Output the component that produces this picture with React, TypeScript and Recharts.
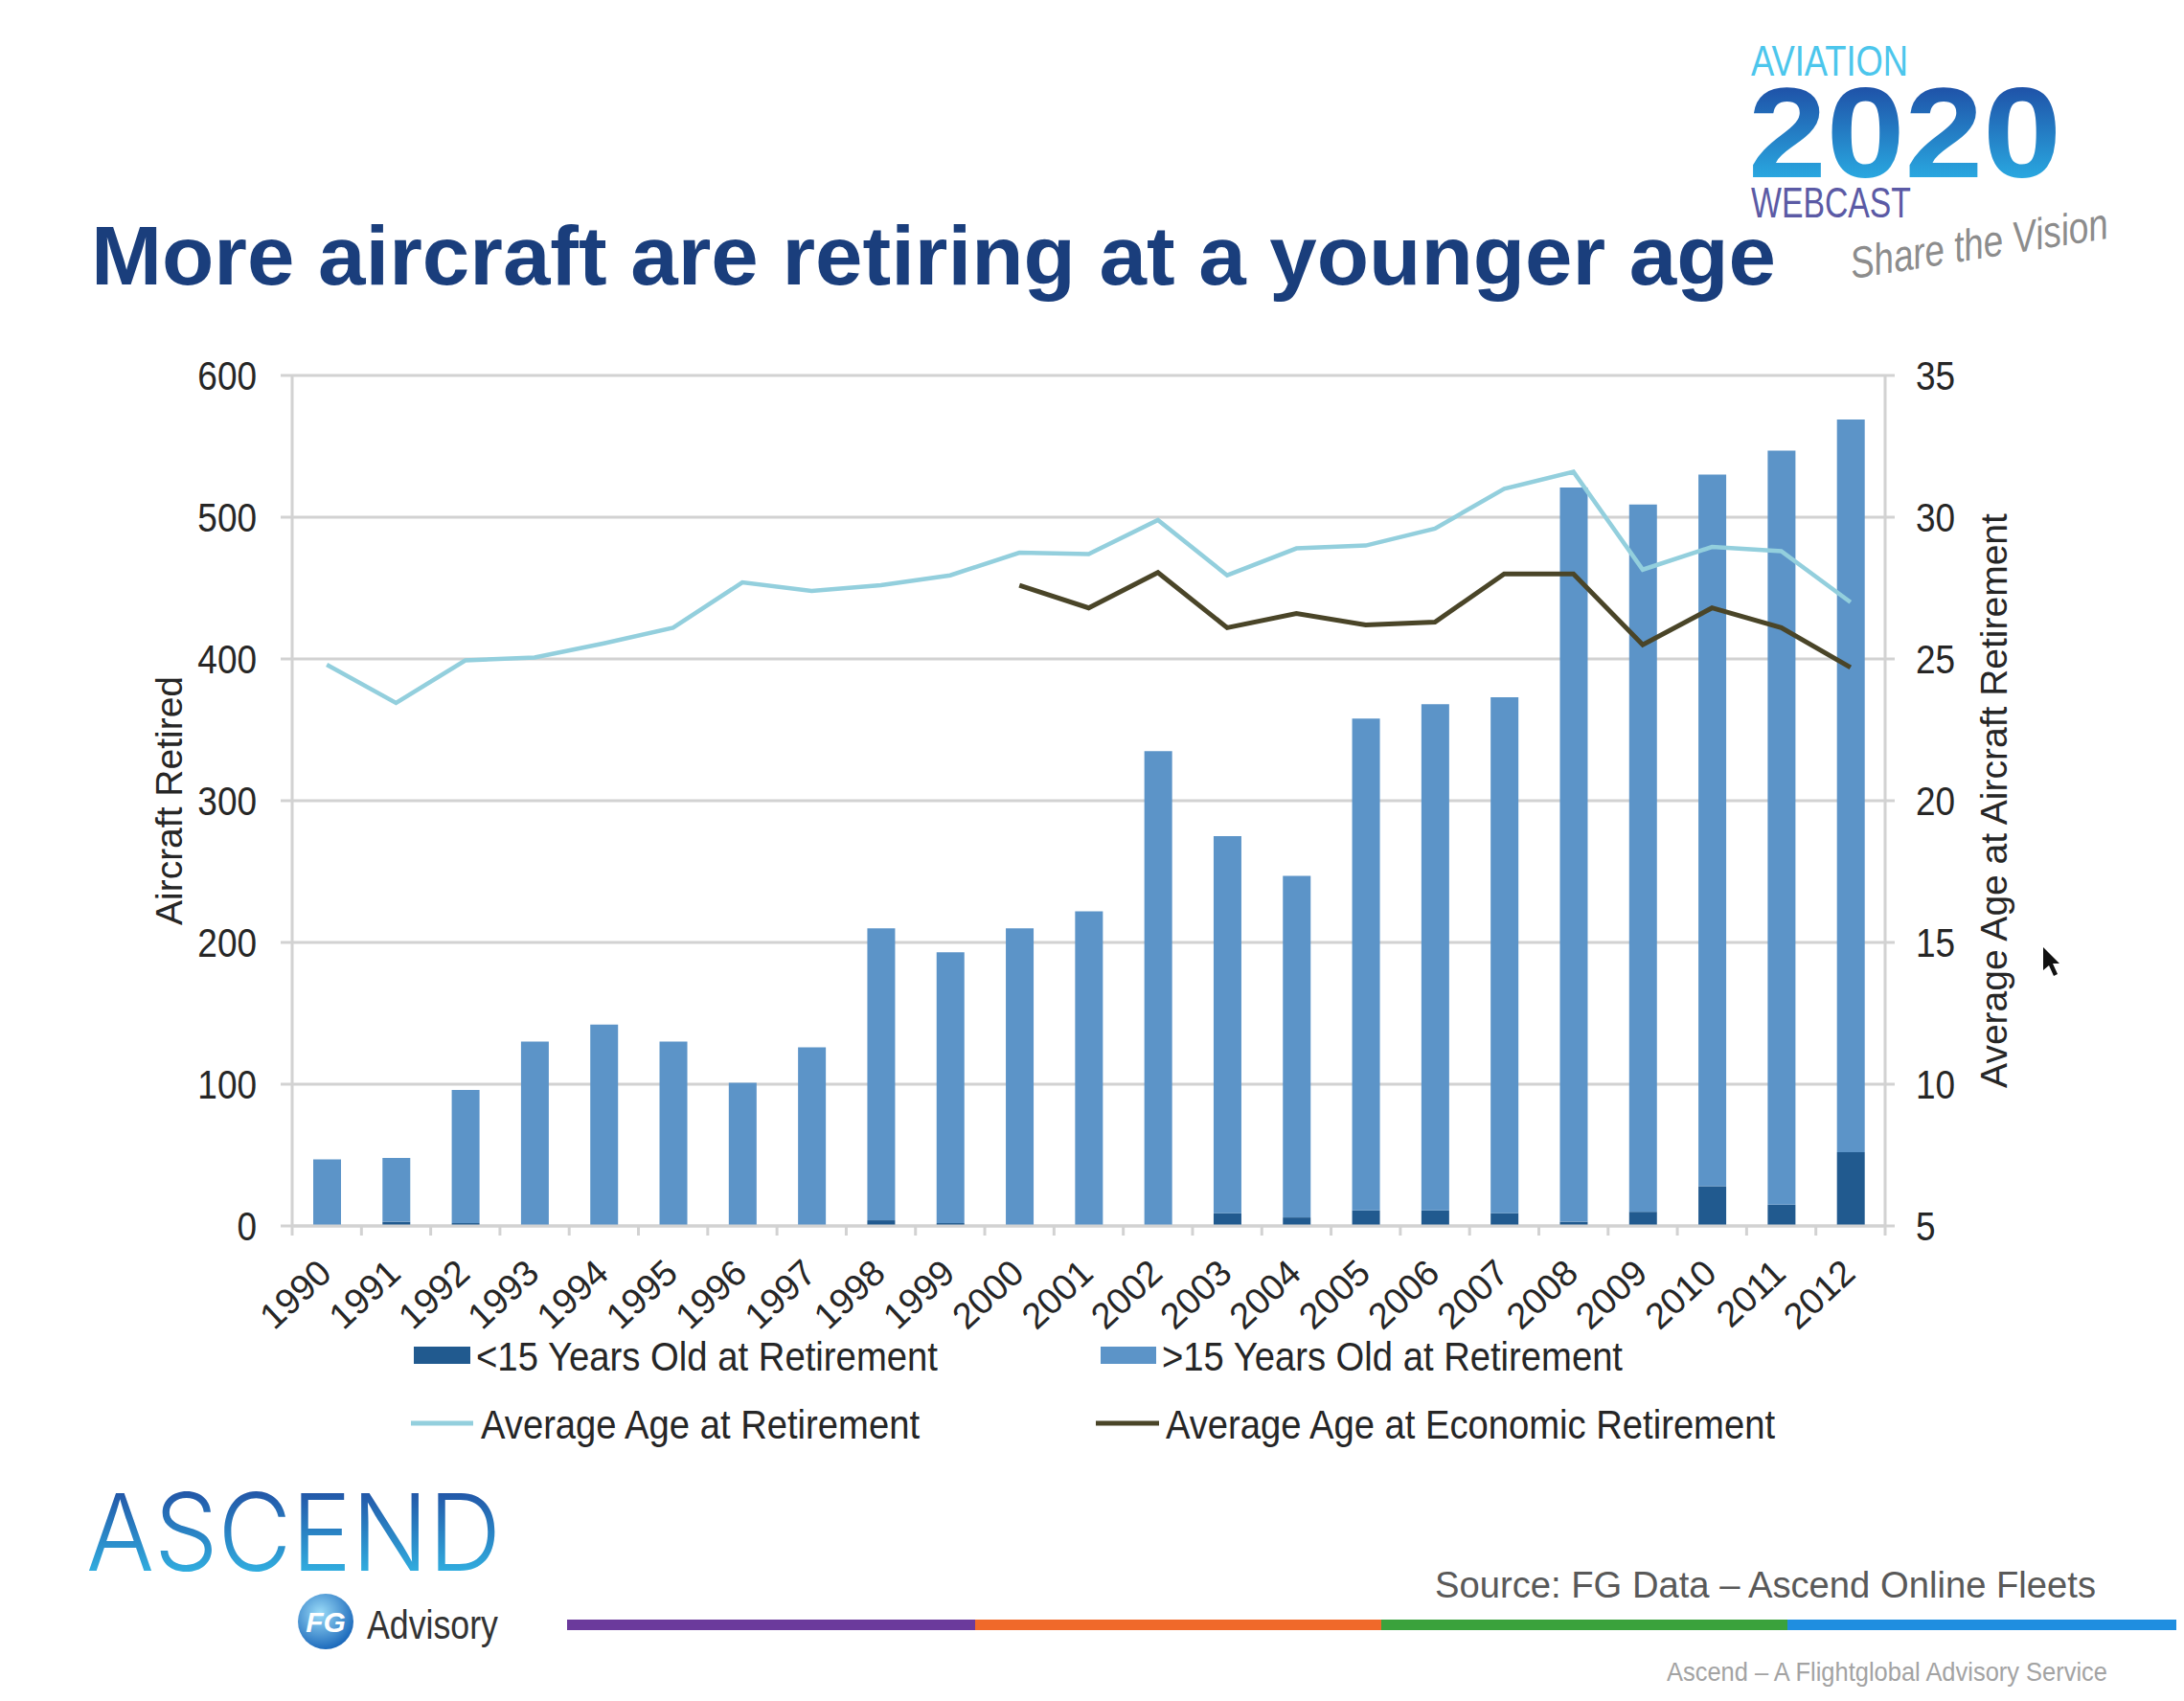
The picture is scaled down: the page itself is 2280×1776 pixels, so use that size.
import React from 'react'
import { ComposedChart, Bar, Line, XAxis, YAxis, CartesianGrid, Legend } from 'recharts'

const years = [
  '1990', '1991', '1992', '1993', '1994', '1995', '1996', '1997', '1998', '1999', '2000', '2001',
  '2002', '2003', '2004', '2005', '2006', '2007', '2008', '2009', '2010', '2011', '2012',
]
const under15 = [0, 3, 2, 0, 0, 0, 0, 0, 4, 2, 0, 0, 0, 9, 6, 11, 11, 9, 3, 10, 28, 15, 52]
const over15 = [47, 45, 94, 130, 142, 130, 101, 126, 206, 191, 210, 222, 335, 266, 241, 347, 357, 364, 518, 499, 502, 532, 517]
const avgAge = [
  24.8, 23.45, 24.95, 25.05, 25.55, 26.1, 27.7, 27.4, 27.6, 27.95, 28.75, 28.7,
  29.9, 27.95, 28.9, 29.0, 29.6, 31.0, 31.6, 28.15, 28.95, 28.8, 27.0,
]
const econAge: (number | null)[] = [
  null, null, null, null, null, null, null, null, null, null, 27.6, 26.8,
  28.05, 26.1, 26.6, 26.2, 26.3, 28.0, 28.0, 25.5, 26.8, 26.1, 24.7,
]
const leftTicks = [0, 100, 200, 300, 400, 500, 600]
const rightTicks = [5, 10, 15, 20, 25, 30, 35]
const seriesNames = [
  '<15 Years Old at Retirement',
  '>15 Years Old at Retirement',
  'Average Age at Retirement',
  'Average Age at Economic Retirement',
]

const data = years.map((year, i) => ({
  year,
  under15: under15[i],
  over15: over15[i],
  avgAge: avgAge[i],
  econAge: econAge[i],
}))

const FONT = '"Liberation Sans", Arial, sans-serif'
const TEXT = '#262626'
const GRID = '#d2d2d2'
const DARK_BAR = '#215a8f'
const LIGHT_BAR = '#5c94c8'
const AVG = '#93cfdd'
const ECON = '#4a4528'

function YTick(props: any) {
  const { x, y, payload, textAnchor } = props
  return (
    <g transform={`translate(${x},${y}) scale(0.88,1)`}>
      <text textAnchor={textAnchor} dy="0.36em" fontSize={42} fill={TEXT} fontFamily={FONT}>
        {payload.value}
      </text>
    </g>
  )
}

function XTick(props: any) {
  const { x, y, payload, index, visibleTicksCount } = props
  const half = payload.offset || 36.15
  const top = y - 10
  return (
    <g>
      <line x1={x - half} x2={x - half} y1={top} y2={top + 10} stroke={GRID} strokeWidth={3} />
      {index === visibleTicksCount - 1 && (
        <line x1={x + half} x2={x + half} y1={top} y2={top + 10} stroke={GRID} strokeWidth={3} />
      )}
      <text
        transform={`translate(${x + 7},${y + 42}) rotate(-43)`}
        textAnchor="end"
        fontSize={38}
        fill={TEXT}
        fontFamily={FONT}
      >
        {payload.value}
      </text>
    </g>
  )
}

function AxisTitle(props: any) {
  const { viewBox, value, dx } = props
  const cx = viewBox.x + dx
  const cy = viewBox.y + viewBox.height / 2
  return (
    <text
      transform={`translate(${cx},${cy}) rotate(-90)`}
      textAnchor="middle"
      dominantBaseline="central"
      fontSize={39}
      fill={TEXT}
      fontFamily={FONT}
    >
      {value}
    </text>
  )
}

// legend slots, in page coordinates
const legendSlots: Record<string, { sx: number; sw: number; y: number; tx: number; tl: number }> = {
  under15: { sx: 432, sw: 59, y: 1415, tx: 497, tl: 482 },
  over15: { sx: 1149, sw: 58, y: 1415, tx: 1213, tl: 481 },
  avgAge: { sx: 429, sw: 65, y: 1486, tx: 502, tl: 458 },
  econAge: { sx: 1144, sw: 66, y: 1486, tx: 1217, tl: 636 },
}

function renderLegend(props: any) {
  const items = props.payload || []
  return (
    <svg width={1500} height={180} viewBox="400 1370 1500 180" style={{ display: 'block' }}>
      {items.map((item: any) => {
        const s = legendSlots[item.dataKey]
        if (!s) return null
        const isBar = item.type === 'rect' || item.dataKey === 'under15' || item.dataKey === 'over15'
        return (
          <g key={item.dataKey}>
            {isBar ? (
              <rect x={s.sx} y={s.y - 9} width={s.sw} height={18} fill={item.color} />
            ) : (
              <line x1={s.sx} x2={s.sx + s.sw} y1={s.y} y2={s.y} stroke={item.color} strokeWidth={5} />
            )}
            <text
              x={s.tx}
              y={s.y + 16}
              fontSize={42}
              fill={TEXT}
              fontFamily={FONT}
              textLength={s.tl}
              lengthAdjust="spacingAndGlyphs"
            >
              {item.value}
            </text>
          </g>
        )
      })}
    </svg>
  )
}

function Decorations() {
  return (
    <svg
      width={2280}
      height={1776}
      style={{ position: 'absolute', left: 0, top: 0, pointerEvents: 'none' }}
      fontFamily={FONT}
    >
      <defs>
        <linearGradient id="logo2020" x1="0" y1="0" x2="0" y2="1">
          <stop offset="0" stopColor="#1c3a98" />
          <stop offset="1" stopColor="#2cc0f0" />
        </linearGradient>
        <linearGradient id="ascend" x1="0" y1="0" x2="0" y2="1">
          <stop offset="0" stopColor="#1e3b96" />
          <stop offset="1" stopColor="#35c8f0" />
        </linearGradient>
        <radialGradient id="fg" cx="0.4" cy="0.35" r="0.7">
          <stop offset="0" stopColor="#9bdcf8" />
          <stop offset="1" stopColor="#1563b8" />
        </radialGradient>
      </defs>

      <text x={95} y={297} fontSize={88} fontWeight="bold" fill="#1a3e7c" textLength={1759} lengthAdjust="spacingAndGlyphs">
        More aircraft are retiring at a younger age
      </text>

      <text x={1828} y={79} fontSize={44} fill="#4cc6ec" textLength={164} lengthAdjust="spacingAndGlyphs">
        AVIATION
      </text>
      <text x={1825} y={185} fontSize={134} fontWeight="bold" fill="url(#logo2020)" textLength={327} lengthAdjust="spacingAndGlyphs">
        2020
      </text>
      <text x={1828} y={227} fontSize={44} fill="#5b5aa5" textLength={167} lengthAdjust="spacingAndGlyphs">
        WEBCAST
      </text>
      <text
        transform="translate(1934,291) rotate(-9)"
        fontSize={46}
        fontStyle="italic"
        fill="#8c8c8c"
        textLength={272}
        lengthAdjust="spacingAndGlyphs"
      >
        Share the Vision
      </text>

      <text
        x={90}
        y={1640}
        fontSize={112}
        fontWeight={300}
        fontFamily='Inter, Roboto, "Noto Sans", sans-serif'
        fill="url(#ascend)"
        textLength={433}
        lengthAdjust="spacingAndGlyphs"
      >
        ASCEND
      </text>
      <circle cx={340} cy={1693} r={29} fill="url(#fg)" />
      <text x={340} y={1704} fontSize={30} fontWeight="bold" fontStyle="italic" fill="#ffffff" textAnchor="middle">
        FG
      </text>
      <text x={383} y={1711} fontSize={42} fill="#333333" textLength={137} lengthAdjust="spacingAndGlyphs">
        Advisory
      </text>

      <text x={1498} y={1668} fontSize={38} fill="#595959" textLength={690} lengthAdjust="spacingAndGlyphs">
        Source: FG Data – Ascend Online Fleets
      </text>
      <rect x={592} y={1691} width={426} height={11} fill="#6b3a9c" />
      <rect x={1018} y={1691} width={424} height={11} fill="#f0692a" />
      <rect x={1442} y={1691} width={424} height={11} fill="#3aa23c" />
      <rect x={1866} y={1691} width={414} height={11} fill="#1f8ee0" />
      <text x={1740} y={1755} fontSize={28} fill="#a3a3a3" textLength={460} lengthAdjust="spacingAndGlyphs">
        Ascend – A Flightglobal Advisory Service
      </text>
      <rect x={0} y={1770} width={2280} height={4} fill="#b8b8b8" />

      <path d="M2133 989 L2133 1013 L2139 1008 L2144 1019 L2148 1017 L2143 1006 L2150 1006 Z" fill="#111111" />
    </svg>
  )
}

export default function App() {
  return (
    <div
      style={{
        position: 'relative',
        width: 2280,
        height: 1776,
        margin: -8,
        background: '#ffffff',
        overflow: 'hidden',
        fontFamily: FONT,
      }}
    >
      <ComposedChart
        width={2280}
        height={1776}
        data={data}
        margin={{ top: 392, right: 0, bottom: 356, left: 0 }}
        barSize={29}
      >
        <CartesianGrid yAxisId="left" vertical={false} stroke={GRID} strokeWidth={3} />
        <XAxis
          dataKey="year"
          height={140}
          interval={0}
          tickLine={false}
          tickSize={10}
          tickMargin={0}
          axisLine={{ stroke: GRID, strokeWidth: 3 }}
          tick={<XTick />}
        />
        <YAxis
          yAxisId="left"
          orientation="left"
          width={305}
          domain={[0, 600]}
          ticks={leftTicks}
          tickSize={12}
          tickMargin={25}
          axisLine={{ stroke: GRID, strokeWidth: 3 }}
          tickLine={{ stroke: GRID, strokeWidth: 3 }}
          tick={<YTick />}
          label={<AxisTitle value="Aircraft Retired" dx={176} />}
        />
        <YAxis
          yAxisId="right"
          orientation="right"
          width={312}
          domain={[5, 35]}
          ticks={rightTicks}
          tickSize={10}
          tickMargin={22}
          axisLine={{ stroke: GRID, strokeWidth: 3 }}
          tickLine={{ stroke: GRID, strokeWidth: 3 }}
          tick={<YTick />}
          label={<AxisTitle value="Average Age at Aircraft Retirement" dx={113} />}
        />
        <Legend
          layout="horizontal"
          verticalAlign="middle"
          align="center"
          wrapperStyle={{ position: 'absolute', left: 400, top: 1370, width: 1500, height: 180 }}
          content={renderLegend}
        />
        <Bar yAxisId="left" dataKey="under15" name={seriesNames[0]} stackId="a" fill={DARK_BAR} isAnimationActive={false} />
        <Bar yAxisId="left" dataKey="over15" name={seriesNames[1]} stackId="a" fill={LIGHT_BAR} isAnimationActive={false} />
        <Line
          yAxisId="right"
          type="linear"
          dataKey="avgAge"
          name={seriesNames[2]}
          stroke={AVG}
          strokeWidth={4.5}
          dot={false}
          activeDot={false}
          isAnimationActive={false}
        />
        <Line
          yAxisId="right"
          type="linear"
          dataKey="econAge"
          name={seriesNames[3]}
          stroke={ECON}
          strokeWidth={5}
          dot={false}
          activeDot={false}
          isAnimationActive={false}
        />
      </ComposedChart>
      <Decorations />
    </div>
  )
}
